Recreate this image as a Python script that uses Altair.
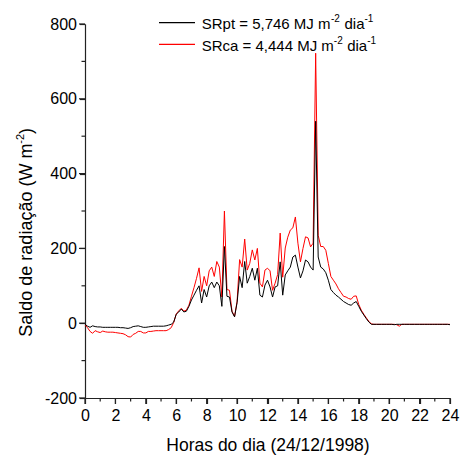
import altair as alt
import pandas as pd

# ---------------- data ----------------
horas = [i / 6 for i in range(145)]  # 10-minute samples, 0..24 h

sr_pt = [
    -3, -8, -11, -7, -9, -10, -10, -11, -11, -11,
    -11, -11, -11, -11, -12, -12, -13, -14, -12, -9,
    -8, -7, -9, -11, -11, -10, -9, -8, -8, -8,
    -8, -8, -7, -5, -3, 3, 24, 30, 38, 30,
    32, 45, 62, 75, 88, 100, 54, 90, 70, 100,
    110, 95, 110, 100, 45, 205, 72, 70, 30, 17,
    55, 125, 95, 165, 107, 125, 147, 115, 147, 75,
    70, 102, 115, 97, 70, 97, 100, 164, 75, 129,
    140, 150, 177, 182, 150, 121, 140, 169, 164, 150,
    142, 540, 177, 150, 145, 135, 115, 90, 82, 75,
    70, 64, 58, 54, 50, 48, 54, 58, 45, 32,
    22, 12, 3, -3, -3, -3, -3, -3, -3, -3,
    -3, -3, -4, -3, -3, -3, -3, -3, -3, -3,
    -3, -3, -3, -3, -3, -3, -3, -3, -3, -3,
    -3, -3, -3, -3, -4,
]

sr_ca = [
    -5, -12, -22, -27, -20, -23, -25, -21, -23, -24,
    -24, -24, -25, -26, -27, -28, -31, -36, -37, -30,
    -27, -22, -22, -26, -26, -22, -22, -21, -20, -20,
    -20, -20, -20, -17, -12, 2, 25, 33, 40, 32,
    35, 48, 72, 95, 120, 148, 85, 125, 100, 140,
    150, 125, 165, 150, 70, 300, 90, 88, 32, 18,
    58, 170, 150, 225, 142, 160, 196, 169, 200, 107,
    97, 142, 147, 140, 88, 107, 130, 241, 123, 201,
    230, 249, 255, 284, 214, 164, 200, 231, 228, 204,
    214, 722, 235, 205, 205, 195, 160, 125, 115, 105,
    92, 82, 72, 70, 66, 64, 72, 73, 50, 35,
    24, 14, 5, -2, -3, -3, -3, -3, -3, -3,
    -3, -3, -3, -4, -8, -3, -3, -3, -3, -3,
    -3, -3, -3, -3, -3, -3, -3, -3, -3, -3,
    -3, -3, -3, -3, -3,
]

x_ticks = [0, 2, 4, 6, 8, 10, 12, 14, 16, 18, 20, 22, 24]
x_minor = [1, 3, 5, 7, 9, 11, 13, 15, 17, 19, 21, 23]
y_ticks = [-200, 0, 200, 400, 600, 800]
y_minor = [-100, 100, 300, 500, 700]

legend_main = ["SRpt = 5,746 MJ m", "SRca = 4,444 MJ m"]
legend_sup1 = ["-2", "-2"]
legend_mid = ["dia", "dia"]
legend_sup2 = ["-1", "-1"]

y_title_main = "Saldo de radiação (W m"
y_title_sup = "-2"
y_title_end = ")"
x_title = "Horas do dia (24/12/1998)"

# ---------------- chart ----------------
W, H = 365, 374
FONT = "Liberation Sans"
AX = "#222222"
LABEL_EXPR = "datum.value < 0 ? '-' + abs(datum.value) : '' + datum.value"

df_long = pd.concat([
    pd.DataFrame({"hora": horas, "valor": sr_ca, "serie": "SRca", "ordem": 0}),
    pd.DataFrame({"hora": horas, "valor": sr_pt, "serie": "SRpt", "ordem": 1}),
])

xs = alt.Scale(domain=[0, 24], nice=False, zero=False)
ys = alt.Scale(domain=[-200, 800], nice=False, zero=False)

X_AXIS = alt.Axis(values=x_ticks, title=x_title, grid=False, labelPadding=4,
                  labelFlush=False, labelOverlap=False,
                  titlePadding=13, titleFontSize=17.5, ticks=True, tickSize=5.5,
                  domainColor=AX, tickColor=AX, domainWidth=1.2, tickWidth=1.2,
                  labelFont=FONT, labelFontSize=16, labelColor="#000000",
                  labelExpr=LABEL_EXPR,
                  titleFont=FONT, titleFontWeight="normal", titleColor="#000000")
Y_AXIS = alt.Axis(values=y_ticks, title=None, grid=False, labelPadding=3,
                  labelFlush=False, labelOverlap=False,
                  ticks=True, tickSize=5.5, domainColor=AX, tickColor=AX, domainWidth=1.2,
                  tickWidth=1.2, labelFont=FONT, labelFontSize=16,
                  labelColor="#000000", labelExpr=LABEL_EXPR)

lines = alt.Chart(df_long).mark_line(strokeWidth=1).encode(
    x=alt.X("hora:Q", scale=xs, axis=X_AXIS),
    y=alt.Y("valor:Q", scale=ys, axis=Y_AXIS),
    color=alt.Color("serie:N", scale=alt.Scale(domain=["SRca", "SRpt"],
                                               range=["#ff0000", "#000000"]), legend=None),
    detail="ordem:N",
)


def xtick_layer(vals, length):
    return alt.Chart(pd.DataFrame({"hora": vals})).mark_tick(
        color=AX, thickness=1.2, size=length, opacity=1).encode(
        x=alt.X("hora:Q", scale=xs, axis=X_AXIS),
        y=alt.value(H + length / 2))


def ytick_layer(vals, length):
    return alt.Chart(pd.DataFrame({"valor": vals})).mark_tick(
        color=AX, thickness=1.2, size=length, opacity=1).encode(
        y=alt.Y("valor:Q", scale=ys, axis=Y_AXIS),
        x=alt.value(-length / 2))


ticks = [
    xtick_layer(x_ticks, 6),
    xtick_layer(x_minor, 3.5),
    ytick_layer(y_ticks, 6),
    ytick_layer(y_minor, 3.5),
]


def txt(text, x, y, size, angle=0):
    props = dict(align="left", baseline="alphabetic", font=FONT, fontSize=size, color="#000000")
    if angle:
        props["angle"] = angle
    return alt.Chart(pd.DataFrame({"t": [text]})).mark_text(**props).encode(
        text="t:N", x=alt.value(x), y=alt.value(y))


def seg(color, x1, x2, y):
    return alt.Chart(pd.DataFrame({"c": [color]})).mark_rule(color=color, strokeWidth=1.2).encode(
        x=alt.value(x1), x2=alt.value(x2), y=alt.value(y))


leg = [
    seg("#000000", 74, 110, -1.3),
    seg("#ff0000", 74, 110, 20.3),
    txt(legend_main[0], 116.7, 5.3, 15),
    txt(legend_sup1[0], 246, -1.7, 10),
    txt(legend_mid[0], 259.5, 5.3, 15),
    txt(legend_sup2[0], 279.5, -1.7, 10),
    txt(legend_main[1], 116.7, 26.7, 15),
    txt(legend_sup1[1], 248.8, 20, 10),
    txt(legend_mid[1], 262.2, 26.7, 15),
    txt(legend_sup2[1], 282.2, 20, 10),
]

ytitle = [
    txt(y_title_main, -53.3, 312.7, 18, 270),
    txt(y_title_sup, -61.3, 119.7, 11, 270),
    txt(y_title_end, -53.3, 109.9, 18, 270),
]

chart = alt.layer(lines, *ticks, *leg, *ytitle).properties(
    width=W, height=H,
    background="#ffffff",
    autosize=alt.AutoSizeParams(type="none"),
    padding={"left": 85, "top": 24, "right": 10, "bottom": 59},
).configure_view(strokeWidth=0)

chart.save("out.html", embed_options={"renderer": "svg", "actions": False})
